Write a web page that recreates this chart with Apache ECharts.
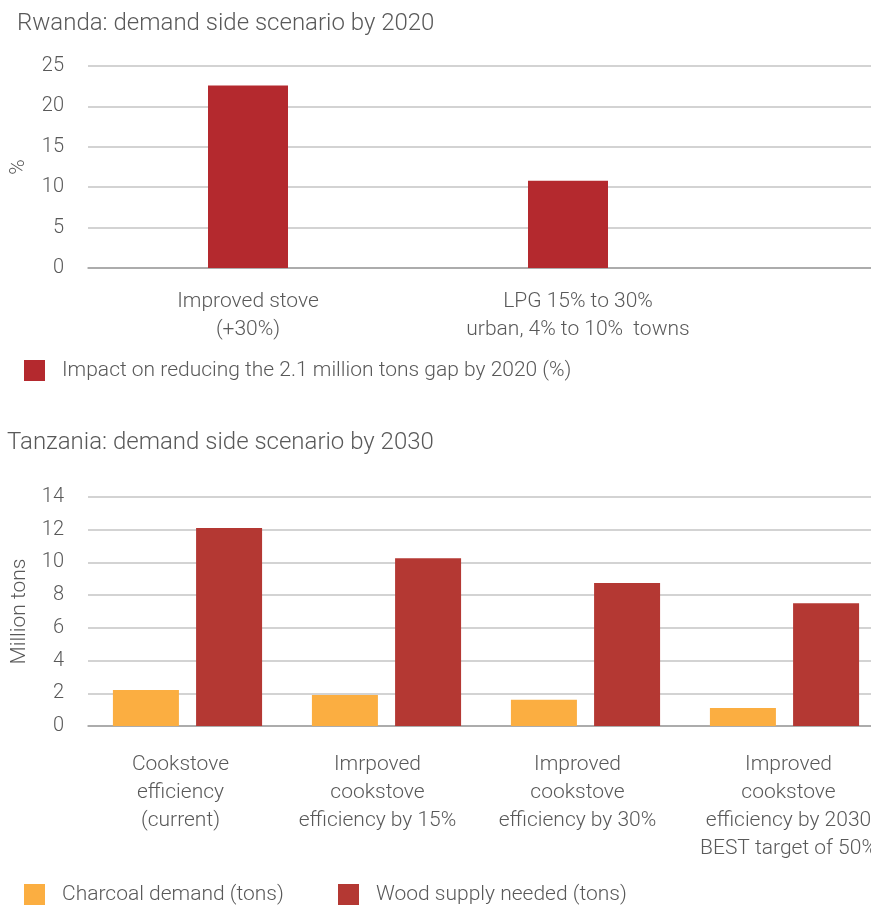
<!DOCTYPE html>
<html>
<head>
<meta charset="utf-8">
<script src="https://cdn.jsdelivr.net/npm/echarts@6/dist/echarts.min.js"></script>
<style>html,body{margin:0;padding:0;background:#fff;}#c{width:871px;height:905px;}</style>
</head>
<body>
<div id="c"></div>
<script>
// Rwanda chart data
const rwCategories = ['Improved stove\n(+30%)', 'LPG 15% to 30%\nurban, 4% to 10%  towns', ''];
const rwValues = [22.6, 10.8, null];
const rwSeriesName = 'Impact on reducing the 2.1 million tons gap by 2020 (%)';
const rwTicks = [0, 5, 10, 15, 20, 25];

// Tanzania chart data
const tzCategories = [
  'Cookstove\nefficiency\n(current)',
  'Imrpoved\ncookstove\nefficiency by 15%',
  'Improved\ncookstove\nefficiency by 30%',
  'Improved\ncookstove\nefficiency by 2030\nBEST target of 50%'
];
const tzCharcoal = [2.2, 1.9, 1.6, 1.1];
const tzWood = [12.1, 10.25, 8.75, 7.5];
const tzSeriesNames = ['Charcoal demand (tons)', 'Wood supply needed (tons)'];
const tzTicks = [0, 2, 4, 6, 8, 10, 12, 14];

const FONT = 'Roboto';
const TXT = '#595959';
const chart = echarts.init(document.getElementById('c'));
const yLabel = {color: TXT, fontSize: 20, fontFamily: FONT, fontWeight: 300, margin: 24};
const split = {show: true, lineStyle: {color: '#c4c4c4', width: 1.5}};
const legText = {fontSize: 21, color: TXT, fontWeight: 300, fontFamily: FONT, padding: [0, 0, 0, 12]};

// label paddings (style only): nudge each category label horizontally as in the original
const rwLabelPad = [[0, 0, 0, 0], [0, 0, 0, 20], [0, 0, 0, 0]];
const tzLabelPad = [[0, 14, 0, 0], [0, 18, 0, 0], [0, 16, 0, 0], [0, 0, 0, 8]];
const rwAxisData = rwCategories.map((c, i) => ({value: c, textStyle: {padding: rwLabelPad[i]}}));
const tzAxisData = tzCategories.map((c, i) => ({value: c, textStyle: {padding: tzLabelPad[i]}}));

chart.setOption({
  animation: false,
  textStyle: {fontFamily: FONT},
  title: [
    {text: 'Rwanda: demand side scenario by 2020', left: 12, top: 7,
     textStyle: {fontSize: 24, fontWeight: 300, color: TXT, fontFamily: FONT}},
    {text: 'Tanzania: demand side scenario by 2030', left: 2, top: 426,
     textStyle: {fontSize: 24, fontWeight: 300, color: TXT, fontFamily: FONT}}
  ],
  legend: [
    {data: [rwSeriesName], left: 24, top: 360, padding: 0, itemWidth: 21, itemHeight: 21, icon: 'rect', textStyle: legText},
    {data: [tzSeriesNames[0]], left: 24, top: 884, padding: 0, itemWidth: 21, itemHeight: 21, icon: 'rect', textStyle: legText},
    {data: [tzSeriesNames[1]], left: 338, top: 884, padding: 0, itemWidth: 21, itemHeight: 21, icon: 'rect', textStyle: legText}
  ],
  grid: [
    {left: 88, top: 66, width: 960, height: 202, outerBoundsMode: 'none', containLabel: false},
    {left: 88, top: 497, width: 796, height: 229, outerBoundsMode: 'none', containLabel: false}
  ],
  xAxis: [
    {gridIndex: 0, type: 'category', data: rwAxisData,
     axisLine: {lineStyle: {color: '#a0a0a0', width: 1.5}}, axisTick: {show: false},
     axisLabel: {color: TXT, fontSize: 21, fontWeight: 300, fontFamily: FONT, margin: 20, lineHeight: 28, interval: 0}},
    {gridIndex: 1, type: 'category', data: tzAxisData,
     axisLine: {lineStyle: {color: '#a0a0a0', width: 1.5}}, axisTick: {show: false},
     axisLabel: {color: TXT, fontSize: 21, fontWeight: 300, fontFamily: FONT, margin: 25, lineHeight: 28, interval: 0}}
  ],
  yAxis: [
    {gridIndex: 0, type: 'value', min: rwTicks[0], max: rwTicks[rwTicks.length - 1], interval: 5,
     name: '%', nameLocation: 'middle', nameGap: 59, nameRotate: 90,
     nameTextStyle: {color: TXT, fontSize: 21, fontWeight: 300, fontFamily: FONT},
     axisLabel: yLabel, splitLine: split, axisLine: {show: false}, axisTick: {show: false}},
    {gridIndex: 1, type: 'value', min: tzTicks[0], max: tzTicks[tzTicks.length - 1], interval: 2,
     name: 'Million tons', nameLocation: 'middle', nameGap: 58, nameRotate: 90,
     nameTextStyle: {color: TXT, fontSize: 21, fontWeight: 300, fontFamily: FONT},
     axisLabel: yLabel, splitLine: split, axisLine: {show: false}, axisTick: {show: false}}
  ],
  series: [
    {name: rwSeriesName, type: 'bar', xAxisIndex: 0, yAxisIndex: 0, data: rwValues,
     barWidth: 80, itemStyle: {color: '#b4292e'}},
    {name: tzSeriesNames[0], type: 'bar', xAxisIndex: 1, yAxisIndex: 1, data: tzCharcoal,
     barWidth: 66, barGap: '26%', itemStyle: {color: '#fbae41'}},
    {name: tzSeriesNames[1], type: 'bar', xAxisIndex: 1, yAxisIndex: 1, data: tzWood,
     barWidth: 66, barGap: '26%', itemStyle: {color: '#b43833'}}
  ]
});
</script>
</body>
</html>
